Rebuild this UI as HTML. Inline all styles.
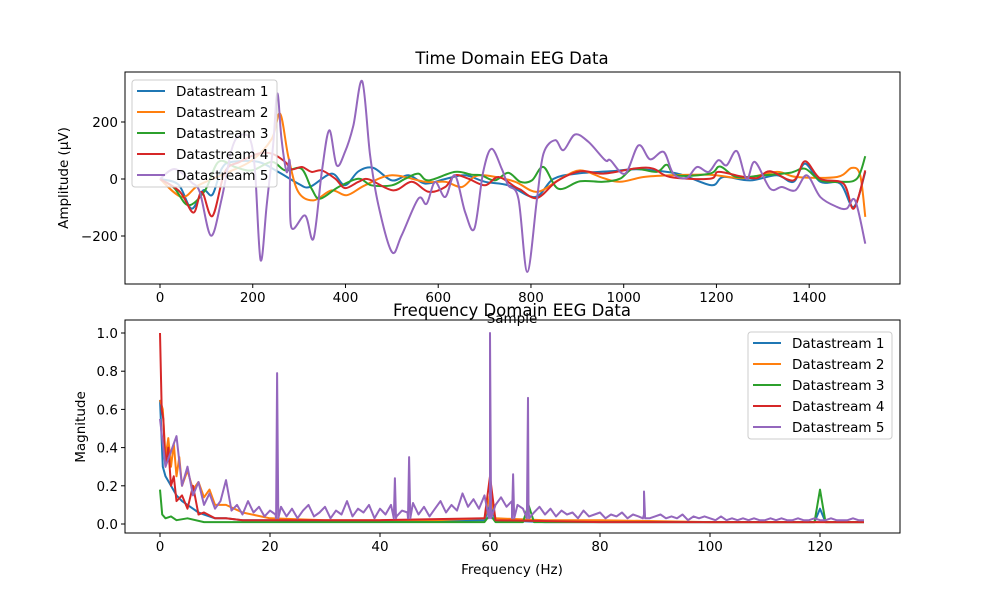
<!DOCTYPE html>
<html><head><meta charset="utf-8"><style>
body{margin:0;background:#fff}
svg{display:block;font-family:"DejaVu Sans","Liberation Sans",sans-serif}
</style></head><body>
<svg id="chart" width="1000" height="600" viewBox="0 0 1000 600" xmlns="http://www.w3.org/2000/svg"></svg>
<script>
// ---- Time domain data (sample index, amplitude µV) ----
const s1Samples=[0,40,68,93,113,133,155,212,255,298,323,370,399,428,460,500,536,572,615,658,701,751,809,848,899,971,1028,1093,1129,1190,1215,1273,1330,1366,1391,1424,1467,1496,1521];
const s1Values=[0,-20,-104,-40,-55,36,60,60,25,-16,-28,19,-22,27,39,-5,13,-16,0,13,-10,-22,-63,0,19,27,34,25,13,-22,7,-5,13,-10,54,-10,-16,-98,25];
const s2Samples=[0,47,83,140,198,241,259,277,298,331,370,403,442,500,572,615,651,680,715,766,813,863,906,956,992,1043,1100,1186,1258,1330,1373,1460,1492,1510,1521];
const s2Values=[0,-63,-22,19,65,141,229,77,-45,-75,-40,-57,-22,13,-10,-10,-28,10,10,-10,-45,0,30,3,-10,7,13,15,3,25,7,7,39,13,-133];
const s3Samples=[0,30,61,97,126,162,198,241,270,305,327,345,385,428,456,500,529,557,579,636,672,693,722,751,777,802,827,859,906,956,992,1021,1071,1093,1114,1186,1208,1244,1301,1359,1391,1424,1467,1503,1521];
const s3Values=[0,-30,-92,-40,60,42,30,60,30,36,-34,-69,-28,1,-22,-22,1,19,-5,25,15,13,-5,22,-10,-5,42,-34,-8,-10,1,36,25,50,13,19,44,7,13,22,36,-5,-10,1,80];
const s4Samples=[0,43,72,90,113,140,172,212,241,270,284,306,327,349,378,399,428,450,503,543,579,615,636,665,701,730,766,777,813,856,906,956,1028,1064,1100,1186,1204,1251,1287,1316,1366,1391,1424,1474,1496,1521];
const s4Values=[0,-45,-118,-45,-130,25,60,89,89,60,34,42,25,30,1,-32,-10,-1,-40,-10,-45,-28,13,1,-22,7,-28,-37,-67,-8,27,19,38,36,7,1,25,10,3,27,-5,62,1,-16,-104,30];
const s5Samples=[0,32,68,86,110,133,155,173,194,205,217,230,244,253,262,273,280,283,313,331,349,365,381,399,417,436,453,471,500,521,557,575,593,615,636,658,678,697,715,737,751,773,792,813,827,852,870,895,924,960,971,1003,1032,1057,1086,1107,1136,1158,1183,1204,1222,1244,1265,1283,1316,1341,1370,1395,1424,1460,1481,1499,1521];
const s5Values=[0,35,-12,-47,-199,-69,106,153,140,25,-285,-92,118,300,141,25,60,-168,-128,-209,25,171,48,95,188,343,83,-92,-256,-198,-69,-87,-11,-63,13,-116,-174,25,106,36,-22,-69,-326,-69,89,136,101,156,130,66,66,19,118,69,95,19,4,42,25,66,48,98,0,60,-34,-28,-40,13,-63,-98,-104,-75,-227];
const timeX=[s1Samples,s2Samples,s3Samples,s4Samples,s5Samples];
const timeY=[s1Values,s2Values,s3Values,s4Values,s5Values];
const xTicksTop=[0,200,400,600,800,1000,1200,1400];
const yTicksTop=[-200,0,200];

// ---- Frequency domain data (Hz, magnitude) ----
const f1Freqs=[0,0.5,1,2,3,4,5,6,7,8,10,12,15,20,30,40,50,59,60,61,70,80,100,119,120,121,128];
const f1Mags=[0.65,0.3,0.25,0.2,0.15,0.12,0.1,0.08,0.06,0.05,0.03,0.03,0.02,0.02,0.015,0.015,0.015,0.02,0.1,0.02,0.01,0.01,0.01,0.01,0.08,0.01,0.01];
const f2Freqs=[0,0.5,1,1.5,2,2.5,3,3.5,4,5,6,7,8,9,10,12,15,20,30,40,50,59,60,61,70,80,100,128];
const f2Mags=[0.65,0.6,0.35,0.45,0.3,0.42,0.25,0.35,0.2,0.28,0.18,0.22,0.14,0.18,0.1,0.1,0.06,0.03,0.02,0.02,0.02,0.03,0.15,0.03,0.02,0.02,0.01,0.01];
const f3Freqs=[0,0.4,1,2,3,5,8,10,20,40,59,60,61,66,67,68,90,119,120,121,128];
const f3Mags=[0.18,0.05,0.03,0.04,0.02,0.03,0.01,0.01,0.01,0.01,0.01,0.05,0.01,0.01,0.1,0.01,0.01,0.01,0.18,0.01,0.01];
const f4Freqs=[0,0.3,0.6,1,1.5,2,2.5,3,4,5,6,7,8,10,12,15,20,40,59,60,61,80,100,128];
const f4Mags=[1.0,0.6,0.55,0.3,0.4,0.2,0.25,0.12,0.15,0.08,0.2,0.05,0.06,0.03,0.03,0.02,0.02,0.02,0.03,0.25,0.02,0.01,0.01,0.01];
const f5Base=[.55,.3,.38,.46,.2,.3,.15,.22,.1,.16,.08,.12,.23,.07,.1,.05,.12,.06,.09,.04,
.07,.05,.09,.04,.08,.03,.07,.1,.04,.06,.09,.03,.07,.05,.12,.04,.08,.06,.1,.03,
.08,.05,.1,.04,.07,.06,.11,.05,.09,.04,.08,.12,.06,.1,.07,.16,.09,.13,.08,.15,
.12,.1,.14,.09,.12,.1,.08,.11,.06,.09,.05,.08,.04,.07,.05,.06,.03,.07,.04,.05,
.06,.03,.05,.04,.06,.03,.05,.04,.05,.03,.04,.05,.03,.04,.03,.05,.02,.04,.03,.04,
.03,.02,.04,.02,.03,.02,.03,.02,.03,.02,.02,.03,.02,.03,.02,.02,.03,.02,.02,.03,.02,.02,.03,.02,.02,.02,.03,.02,.02];
const f5SpikeFreqs=[21.3,42.7,45.3,60,64.2,66.9,88];
const f5SpikeMags=[0.79,0.24,0.35,1.0,0.26,0.66,0.17];
const xTicksBot=[0,20,40,60,80,100,120];
const yTicksBot=[0,0.2,0.4,0.6,0.8,1.0];

const colors=['#1f77b4','#ff7f0e','#2ca02c','#d62728','#9467bd'];
const NS='http://www.w3.org/2000/svg';
const svgRoot=document.getElementById('chart');
function el(tag,attrs,parent){const e=document.createElementNS(NS,tag);for(const k in attrs)e.setAttribute(k,attrs[k]);(parent||svgRoot).appendChild(e);return e;}

const axTop={l:125,r:900,t:72,b:284};
const axBot={l:125,r:900,t:320,b:533};
const xT=v=>160+v*0.4637, yT=v=>179-v*0.285;
const xB=v=>160+v*5.5, yB=v=>524-v*191;

function smoothPath(pts){
  let d='M'+pts[0][0].toFixed(1)+','+pts[0][1].toFixed(1);
  for(let i=0;i<pts.length-1;i++){
    const p0=pts[Math.max(0,i-1)],p1=pts[i],p2=pts[i+1],p3=pts[Math.min(pts.length-1,i+2)];
    const c1=[p1[0]+(p2[0]-p0[0])/6,p1[1]+(p2[1]-p0[1])/6];
    const c2=[p2[0]-(p3[0]-p1[0])/6,p2[1]-(p3[1]-p1[1])/6];
    d+=' C'+c1[0].toFixed(1)+','+c1[1].toFixed(1)+' '+c2[0].toFixed(1)+','+c2[1].toFixed(1)+' '+p2[0].toFixed(1)+','+p2[1].toFixed(1);
  }
  return d;
}

const defs=el('defs',{});
const cp1=el('clipPath',{id:'clipTop'},defs);el('rect',{x:axTop.l,y:axTop.t,width:axTop.r-axTop.l,height:axTop.b-axTop.t},cp1);
const cp2=el('clipPath',{id:'clipBot'},defs);el('rect',{x:axBot.l,y:axBot.t,width:axBot.r-axBot.l,height:axBot.b-axBot.t},cp2);

const gT=el('g',{'clip-path':'url(#clipTop)'});


for(let s=0;s<5;s++){
  const pts=timeX[s].map((x,i)=>[xT(x),yT(timeY[s][i])]);
  const p=el('path',{d:smoothPath(pts),fill:'none',stroke:colors[s],'stroke-width':2,'stroke-linejoin':'round'},gT);
  
  
}
const gB=el('g',{'clip-path':'url(#clipBot)'});


const freqF=[f1Freqs,f2Freqs,f3Freqs,f4Freqs];
const freqM=[f1Mags,f2Mags,f3Mags,f4Mags];
const series5=[];
f5Base.forEach((m,i)=>series5.push([i,m]));
f5SpikeFreqs.forEach((f,i)=>{series5.push([f-0.2,0.03]);series5.push([f,f5SpikeMags[i]]);series5.push([f+0.2,0.03]);});
series5.sort((a,b)=>a[0]-b[0]);
for(let s=0;s<5;s++){
  let pts;
  if(s<4) pts=freqF[s].map((f,i)=>[xB(f),yB(freqM[s][i])]);
  else pts=series5.map(p=>[xB(p[0]),yB(p[1])]);
  const d='M'+pts.map(p=>p[0].toFixed(1)+','+p[1].toFixed(1)).join(' L');
  const p=el('path',{d:d,fill:'none',stroke:colors[s],'stroke-width':2,'stroke-linejoin':'round'},gB);
  
  
}
[axTop,axBot].forEach((a,i)=>{
  const r=el('rect',{x:a.l,y:a.t,width:a.r-a.l,height:a.b-a.t,fill:'none',stroke:'#000','stroke-width':1});
  
  
});
function tickX(vals,fx,a,name){vals.forEach(v=>{const x=fx(v);el('line',{x1:x,x2:x,y1:a.b,y2:a.b+4,stroke:'#000'});
  const t=el('text',{x:x,y:a.b+18,'text-anchor':'middle','font-size':13.5,fill:'#000'});t.textContent=String(v);
  });}
function tickY(vals,fy,a,name,fmt){vals.forEach(v=>{const y=fy(v);el('line',{x1:a.l-4,x2:a.l,y1:y,y2:y,stroke:'#000'});
  const t=el('text',{x:a.l-7,y:y+5,'text-anchor':'end','font-size':13.5,fill:'#000'});t.textContent=fmt(v);
  });}
tickX(xTicksTop,xT,axTop,'x-tick-label-sample');
tickY(yTicksTop,yT,axTop,'y-tick-label-amplitude',v=>v<0?'\u2212'+(-v):String(v));
tickX(xTicksBot,xB,axBot,'x-tick-label-frequency');
tickY(yTicksBot,yB,axBot,'y-tick-label-magnitude',v=>v.toFixed(1));
function txt(x,y,s,size,name,rot){const t=el('text',{x:x,y:y,'text-anchor':'middle','font-size':size,fill:'#000'});
  if(rot)t.setAttribute('transform','rotate(-90 '+x+' '+y+')');t.textContent=s;
  }
txt(512,64,'Time Domain EEG Data',16.5,'time-chart-title');
txt(512,316,'Frequency Domain EEG Data',16.5,'frequency-chart-title');
txt(512,323,'Sample',13.5,'x-axis-title-sample');
txt(512,574,'Frequency (Hz)',13.5,'x-axis-title-frequency');
txt(68,178,'Amplitude (\u00b5V)',13.5,'y-axis-title-amplitude',true);
txt(85,427,'Magnitude',13.5,'y-axis-title-magnitude',true);
function legend(x,y,w,name){
  const g=el('g',{});
  el('rect',{x:x,y:y,width:w,height:107,rx:3,fill:'#fff','fill-opacity':0.8,stroke:'#ccc'},g);
  for(let s=0;s<5;s++){const yy=y+11+s*21;
    const l=el('line',{x1:x+5,x2:x+33,y1:yy,y2:yy,stroke:colors[s],'stroke-width':2},g);
    
    const t=el('text',{x:x+44,y:yy+5,'font-size':13.5,fill:'#000'},g);t.textContent='Datastream '+(s+1);
    }
}
legend(132,80,145,'time-legend');
legend(748,332,144,'frequency-legend');
</script>
</body></html>
